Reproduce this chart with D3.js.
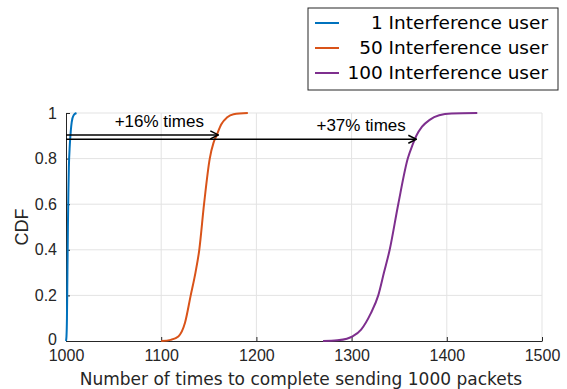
<!DOCTYPE html>
<html>
<head>
<meta charset="utf-8">
<script src="https://cdn.jsdelivr.net/npm/d3@7"></script>
<style>
  body { margin: 0; background: #fff; }
  svg { display: block; }
</style>
</head>
<body>
<div id="chart"></div>
<script>
// CDF samples: [completion count, cdf]
const user1 = [[1000, 0], [1000.5, 0.02], [1001, 0.1], [1001.5, 0.3], [1002, 0.5], [1002.5, 0.65], [1003, 0.76], [1004, 0.86], [1005, 0.92], [1006, 0.96], [1008, 0.99], [1011, 1]];
const user50 = [[1100, 0], [1110, 0.005], [1118, 0.02], [1125, 0.08], [1131, 0.2], [1136, 0.3], [1140, 0.4], [1145, 0.6], [1151, 0.8], [1155, 0.87], [1158, 0.9], [1163, 0.95], [1169, 0.98], [1176, 0.995], [1191, 1]];
const user100 = [[1270, 0], [1285, 0.003], [1295, 0.01], [1301, 0.02], [1310, 0.05], [1320, 0.12], [1328, 0.2], [1334, 0.3], [1340, 0.4], [1349, 0.6], [1359, 0.8], [1364, 0.86], [1368, 0.9], [1374, 0.94], [1382, 0.97], [1392, 0.99], [1405, 0.998], [1432, 1]];

const seriesNames = ["1 Interference user", "50 Interference user", "100 Interference user"];
const seriesColors = ["#0072BD", "#D95319", "#7E2F8E"];
const xTicks = [1000, 1100, 1200, 1300, 1400, 1500];
const yTicks = [0, 0.2, 0.4, 0.6, 0.8, 1];

// annotation arrows: from x0 to x1 at cdf level y
const arrows = [
    { x0: 1000, x1: 1160, y: 0.904, label: "+16% times", lx: 1098 },
    { x0: 1000, x1: 1368, y: 0.885, label: "+37% times", lx: 1310 }
];

const width = 567, height = 389;
const margin = { top: 113, right: 25, bottom: 48, left: 66 };
const plotW = width - margin.left - margin.right;
const plotH = height - margin.top - margin.bottom;

const svg = d3.select("#chart").append("svg").attr("width", width).attr("height", height);
const g = svg.append("g").attr("transform", `translate(${margin.left},${margin.top})`);

const x = d3.scaleLinear().domain([1000, 1500]).range([0, plotW]);
const y = d3.scaleLinear().domain([0, 1]).range([plotH, 0]);

const tickFont = "'Liberation Sans', Arial, sans-serif";
const jpFont = "'DejaVu Sans', sans-serif";

// grid
g.append("g").selectAll("line").data(xTicks.slice(1)).enter().append("line")
    .attr("x1", d => x(d)).attr("x2", d => x(d))
    .attr("y1", 0).attr("y2", plotH)
    .attr("stroke", "#e3e3e3").attr("stroke-width", 1);
g.append("g").selectAll("line").data(yTicks.slice(1)).enter().append("line")
    .attr("x1", 0).attr("x2", plotW)
    .attr("y1", d => y(d)).attr("y2", d => y(d))
    .attr("stroke", "#e3e3e3").attr("stroke-width", 1);

// axes (ticks point inward like MATLAB)
const xAxis = g.append("g").attr("transform", `translate(0,${plotH})`)
    .call(d3.axisBottom(x).tickValues(xTicks).tickSizeInner(-4).tickSizeOuter(0).tickPadding(9).tickFormat(d3.format("d")));
const yAxis = g.append("g")
    .call(d3.axisLeft(y).tickValues(yTicks).tickSizeInner(-4).tickSizeOuter(0).tickPadding(9).tickFormat(d3.format("~g")));
[xAxis, yAxis].forEach(a => {
    a.select(".domain").attr("stroke", "#262626").attr("stroke-width", 1);
    a.selectAll(".tick line").attr("stroke", "#262626");
    a.selectAll(".tick text").attr("fill", "#262626").style("font-family", tickFont).style("font-size", "16px");
});
// lift the "0" label a little so it clears "1000" below it
yAxis.selectAll(".tick text").filter(d => d === 0).attr("dy", "0.2em");

// curves
const line = d3.line().x(d => x(d[0])).y(d => y(d[1])).curve(d3.curveMonotoneX);
[user1, user50, user100].forEach((s, i) => {
    g.append("path").datum(s)
        .attr("d", line)
        .attr("fill", "none")
        .attr("stroke", seriesColors[i])
        .attr("stroke-width", 2);
});

// arrows
svg.append("defs").append("marker")
    .attr("id", "head").attr("viewBox", "0 0 10 10")
    .attr("refX", 9).attr("refY", 5)
    .attr("markerWidth", 10).attr("markerHeight", 10)
    .attr("markerUnits", "userSpaceOnUse")
    .attr("orient", "auto")
    .append("path").attr("d", "M1,1 L9,5 L1,9")
    .attr("fill", "none").attr("stroke", "#000").attr("stroke-width", 1.5);

arrows.forEach(a => {
    g.append("line")
        .attr("x1", x(a.x0)).attr("x2", x(a.x1))
        .attr("y1", y(a.y)).attr("y2", y(a.y))
        .attr("stroke", "#000").attr("stroke-width", 1.5)
        .attr("marker-end", "url(#head)");
    g.append("text")
        .attr("x", x(a.lx)).attr("y", y(a.y) - 8)
        .attr("text-anchor", "middle")
        .style("font-family", tickFont).style("font-size", "17px")
        .attr("fill", "#000")
        .text(a.label);
});

// axis labels
svg.append("text")
    .attr("x", 301).attr("y", height - 4)
    .attr("text-anchor", "middle")
    .style("font-family", jpFont).style("font-size", "17px").attr("fill", "#262626")
    .text("Number of times to complete sending 1000 packets");
svg.append("text")
    .attr("transform", `translate(28,${margin.top + plotH / 2}) rotate(-90)`)
    .attr("text-anchor", "middle")
    .style("font-family", tickFont).style("font-size", "18px").attr("fill", "#262626")
    .text("CDF");

// legend
const legend = svg.append("g").attr("transform", "translate(308,8)");
legend.append("rect").attr("width", 250).attr("height", 82)
    .attr("fill", "#fff").attr("stroke", "#262626").attr("stroke-width", 1);
seriesNames.forEach((name, i) => {
    const cy = 15 + i * 25;
    legend.append("line")
        .attr("x1", 7).attr("x2", 31).attr("y1", cy).attr("y2", cy)
        .attr("stroke", seriesColors[i]).attr("stroke-width", 2);
    legend.append("text")
        .attr("x", 240).attr("y", cy).attr("dy", "0.35em")
        .attr("text-anchor", "end")
        .style("font-family", jpFont).style("font-size", "18.5px").attr("fill", "#000")
        .text(name);
});
</script>
</body>
</html>
